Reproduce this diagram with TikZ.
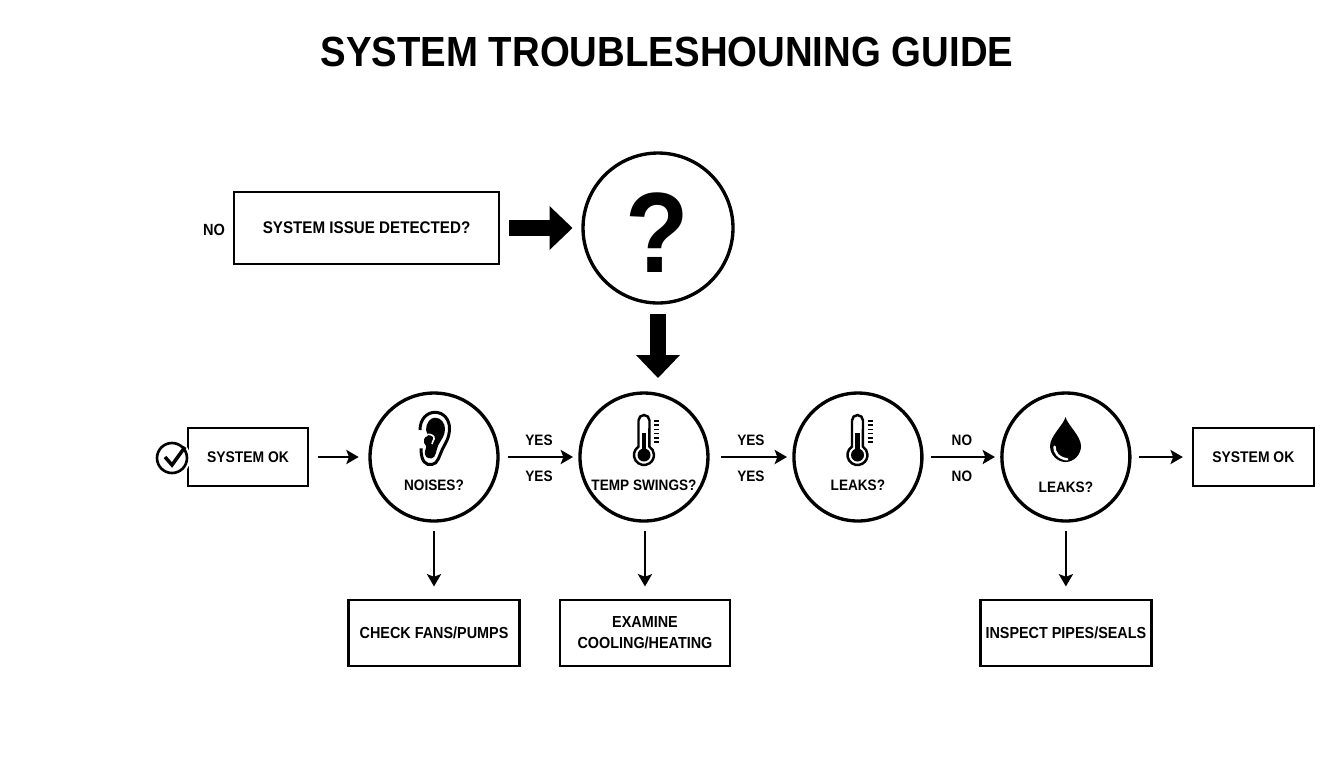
\documentclass[tikz,border=0pt]{standalone}
\usepackage{fontspec}
\setmainfont[FakeStretch=0.9]{Liberation Sans}
\newfontfamily\titlefont[FakeStretch=0.91]{Liberation Sans}
\usepackage{tikz}
\usetikzlibrary{arrows.meta}
\tikzstyle{caption} = [font=\fontsize{8.6}{12}\selectfont\bfseries, inner sep=0pt, align=center]
\tikzstyle{box} = [rectangle, draw=black, line width=1.4pt, fill=white, caption, font=\fontsize{9.1}{12}\selectfont\bfseries, text centered]
\tikzstyle{ring} = [circle, draw=black, line width=1.9pt, minimum size=2.56cm, inner sep=0pt]
\tikzstyle{arrow} = [line width=1.4pt, -{Stealth[length=7pt,width=8pt,inset=1.5pt]}]
\tikzstyle{bigarrow} = [line width=9pt, -{Triangle[length=13pt,width=24pt]}]
\tikzset{
  thermo/.pic={
    \draw [line width=1.4pt] (-5.5,-34.5) -- (-5.5,-8.4) arc (237:-57:10) -- (5.5,-34.5) arc (0:-180:5.5);
    \fill (0,0) circle (6.5);
    \fill (-2.3,-22) rectangle (2.3,0);
    \foreach \y in {-34,-29.8,-25.6,-21.4,-17.2,-13} \draw [line width=1pt] (10,\y) -- (15,\y);
  },
  ear/.pic={
    \draw [line width=1.7pt] (-15,-11) .. controls (-15,-22) and (-8,-28.7) .. (0,-28.7) .. controls (9,-28.7) and (14.5,-21) .. (14.5,-12.7) .. controls (14.5,-3) and (10,3) .. (7.5,8) .. controls (4.5,14) and (3,23) .. (-3,23.5) .. controls (-9,24.5) and (-14,21) .. (-14,7.3);
    \fill (-9,-11) .. controls (-9,-18) and (-5,-23.3) .. (0,-23.3) .. controls (6,-23.3) and (10,-18) .. (10,-12) .. controls (10,-5) and (6,-1) .. (3.3,4) .. controls (1,9) and (1,17) .. (-3.3,17.3) .. controls (-8,18) and (-11,15) .. (-10,10) .. controls (-9.5,7) and (-8,6) .. (-9,5) .. controls (-13,1) and (-11,-5) .. (-7,-5) -- cycle;
    \draw [white, line width=0.9pt] (-7.7,-6.7) .. controls (-4,-7) and (0,-5) .. (-1,-2) .. controls (-1.5,0) and (-3,1) .. (-3,3);
  },
  drop/.pic={
    \fill (0,-28) .. controls (2,-20) and (15.5,-9) .. (15.5,1) .. controls (15.5,10) and (8,17) .. (0,17) .. controls (-8,17) and (-15.5,10) .. (-15.5,1) .. controls (-15.5,-9) and (-2,-20) .. (0,-28) -- cycle;
    \draw [white, line width=1.4pt, line cap=round] (-11,1.7) .. controls (-11.5,7) and (-7,13.5) .. (1.7,14.3);
  }
}

\begin{document}
\begin{tikzpicture}[x=0.02cm, y=-0.02cm, node distance=4cm]
\useasboundingbox (0,0) rectangle (1344,768);

\node (title) at (667,52) [font=\titlefont\fontsize{24}{28}\selectfont\bfseries, inner sep=0pt] {SYSTEM TROUBLESHOUNING GUIDE};

% top row
\node (ques) at (658,228) [ring, minimum size=3cm] {};
\node (mark) at (657,233) [inner sep=0pt, font=\titlefont\fontsize{65}{70}\selectfont\bfseries] {?};
\node (issue) [box, left of=ques, xshift=-1.83cm, minimum width=5.3cm, minimum height=1.44cm, font=\fontsize{9.6}{12}\selectfont\bfseries] {SYSTEM ISSUE DETECTED?};
\node (no0) at (214,230) [caption, font=\fontsize{9.2}{12}\selectfont\bfseries] {NO};

% middle row
\node (noises) at (434,457) [ring] {};
\node (temp) [ring, right of=noises, xshift=0.2cm] {};
\node (leaks1) [ring, right of=temp, xshift=0.28cm] {};
\node (leaks2) [ring, right of=leaks1, xshift=0.16cm] {};
\node (ok1) [box, left of=noises, xshift=0.28cm, minimum width=2.4cm, minimum height=1.16cm, font=\fontsize{8.8}{12}\selectfont\bfseries] {SYSTEM OK};
\node (ok2) [box, right of=leaks2, xshift=-0.25cm, minimum width=2.42cm, minimum height=1.16cm, font=\fontsize{8.8}{12}\selectfont\bfseries] {SYSTEM OK};
\node (check) at (172,458) [circle, draw=black, line width=1.5pt, fill=white, preaction={draw=white, line width=4pt}, minimum size=0.6cm, inner sep=0pt] {};
\draw [line width=2pt] (165,457) -- (172,465) -- (185,447);

\node (noisestext) [caption, node distance=0.56cm, below of=noises] {NOISES?};
\node (temptext) [caption, node distance=0.56cm, below of=temp] {TEMP SWINGS?};
\node (leaks1text) [caption, node distance=0.56cm, below of=leaks1] {LEAKS?};
\node (leaks2text) [caption, node distance=0.6cm, below of=leaks2] {LEAKS?};

\pic at (644,455) {thermo};
\pic at (857.5,455) {thermo};
\pic at (435,441) {ear};
\pic at (1065.5,445) {drop};

% bottom row
\node (fans) [box, below of=noises, yshift=0.48cm, minimum width=3.42cm, minimum height=1.32cm] {CHECK FANS/PUMPS};
\node (cool) [box, below of=temp, yshift=0.48cm, xshift=0.02cm, minimum width=3.4cm, minimum height=1.32cm] {EXAMINE\\COOLING/HEATING};
\node (pipes) [box, below of=leaks2, yshift=0.48cm, minimum width=3.42cm, minimum height=1.32cm] {INSPECT PIPES/SEALS};

\draw [bigarrow, shorten <=5pt, shorten >=5pt] (issue) -- (ques);
\coordinate (drop1) at (658,393);
\draw [bigarrow, shorten <=5.5pt, shorten >=8.5pt] (ques) -- (drop1);
\draw [arrow, shorten <=5pt, shorten >=5.5pt] (ok1) -- (noises);
\draw [arrow, shorten <=5pt, shorten >=3pt] (noises) -- node[caption, above=6pt] {YES} node[caption, below=7.5pt] {YES} (temp);
\draw [arrow, shorten <=6.5pt, shorten >=3pt] (temp) -- node[caption, above=6pt] {YES} node[caption, below=7.5pt] {YES} (leaks1);
\draw [arrow, shorten <=4.5pt, shorten >=3pt] (leaks1) -- node[caption, above=6pt] {NO} node[caption, below=7.5pt] {NO} (leaks2);
\draw [arrow, shorten <=4pt, shorten >=5pt] (leaks2) -- (ok2);
\draw [arrow, shorten <=5pt, shorten >=7pt] (noises) -- (fans);
\draw [arrow, shorten <=5pt, shorten >=7pt] (temp.south -| cool) -- (cool);
\draw [arrow, shorten <=5pt, shorten >=7pt] (leaks2) -- (pipes);

\end{tikzpicture}
\end{document}
